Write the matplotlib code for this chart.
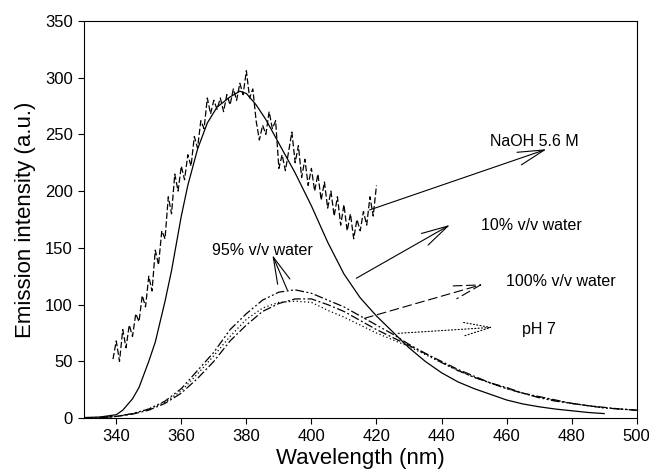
import numpy as np
import matplotlib
matplotlib.use('Agg')
from matplotlib import pyplot as plt

plt.rcParams['font.family'] = ['Liberation Sans', 'DejaVu Sans']

# NaOH 5.6 M (noisy trace, 1 nm steps)
naoh_wl = np.arange(339, 421)
naoh_int = [52, 68, 50, 78, 62, 82, 72, 92, 85, 108,
            98, 125, 112, 148, 135, 165, 158, 195, 180, 215,
            200, 222, 210, 232, 222, 248, 238, 262, 255, 282,
            268, 280, 272, 282, 270, 285, 276, 290, 280, 295,
            285, 306, 282, 290, 262, 245, 258, 250, 270, 255,
            262, 220, 232, 218, 235, 252, 225, 240, 212, 228,
            205, 220, 200, 215, 192, 208, 185, 200, 178, 195,
            170, 188, 165, 180, 158, 175, 165, 182, 170, 195,
            178, 205]

# 10% v/v water
w10_wl = [330, 335, 340, 342, 345, 347, 350, 352, 355, 357, 360, 362, 365, 368,
          371, 375, 378, 380, 383, 386, 390, 395, 400, 405, 410, 415, 420, 425,
          430, 435, 440, 445, 450, 455, 460, 465, 470, 475, 480, 485, 490]
w10_int = [0.5, 1.0, 3, 7, 17, 27, 50, 67, 103, 130, 178, 205, 237, 260,
           274, 283, 288, 286, 276, 263, 242, 216, 187, 155, 127, 106, 90, 76,
           62, 50, 40, 32, 26, 21, 16, 12.5, 10, 8, 6.5, 5, 4]

wl = [330, 335, 340, 345, 350, 355, 360, 365, 370, 375, 380, 385, 390, 395,
      400, 405, 410, 415, 420, 425, 430, 435, 440, 445, 450, 455, 460, 465,
      470, 475, 480, 485, 490, 495, 500]
# 95% v/v water
w95_int = [0, 0.5, 1.5, 4, 8, 15, 26, 42, 58, 78, 92, 104, 111, 113,
           110, 104, 98, 90, 82, 74, 65, 57, 49, 42, 36, 31, 26, 22,
           18, 15, 13, 11, 9, 8, 7]
# 100% v/v water
w100_int = [0, 0.5, 1.5, 3.5, 7, 13, 22, 35, 50, 68, 82, 94, 101, 105,
            105, 100, 94, 86, 78, 71, 64, 57, 50, 43, 37, 31, 27, 22,
            19, 16, 13, 11, 9.5, 8, 7]
# pH 7
ph7_int = [0, 0.5, 1.5, 4, 8, 14, 24, 39, 55, 72, 87, 97, 102, 103,
           102, 95, 89, 82, 75, 69, 63, 56, 49, 42, 36, 31, 26, 22,
           18.5, 15.5, 13, 11, 9, 8, 7]

fig = plt.figure(figsize=(6.49, 4.73), dpi=100)
ax = fig.add_axes([0.129, 0.116, 0.852, 0.840])

lw = 0.9
ax.plot(naoh_wl, naoh_int, color='black', lw=lw, dashes=(5, 2))
ax.plot(w10_wl, w10_int, color='black', lw=lw)
ax.plot(wl, w95_int, color='black', lw=lw, dashes=(7, 2, 1.5, 2, 1.5, 2))
ax.plot(wl, w100_int, color='black', lw=lw, dashes=(7, 2, 1.5, 2))
ax.plot(wl, ph7_int, color='black', lw=lw, dashes=(1, 2))

ax.set_xlim(330, 500)
ax.set_ylim(0, 350)
ax.set_xticks(range(340, 501, 20))
ax.set_yticks(range(0, 351, 50))
ax.tick_params(direction='out', length=4, width=0.8, labelsize=12, pad=4)
for s in ax.spines.values():
    s.set_linewidth(0.8)

ax.set_xlabel('Wavelength (nm)', fontsize=16, labelpad=3)
ax.set_ylabel('Emission intensity (a.u.)', fontsize=16, labelpad=6)

# labels and arrows (tail on the curve, head near the label)
head = '->,head_length=1.6,head_width=0.4'
arrows = [
    ((417.9, 183.4), (472.3, 236.9), 'solid'),
    ((413.8, 123.2), (442.6, 170.2), 'solid'),
    ((416.3, 87.9), (452.7, 117.9), (0, (8, 4))),
    ((426.7, 74.7), (455.8, 80.0), (0, (1, 2))),
    ((392.6, 112.9), (388.0, 143.7), 'solid'),
]
for tail, tip, ls in arrows:
    ax.annotate('', xy=tip, xytext=tail,
                arrowprops=dict(arrowstyle=head, mutation_scale=12, color='black',
                                lw=0.8, linestyle=ls, shrinkA=0, shrinkB=0))

ax.text(455.0, 243.7, 'NaOH 5.6 M', fontsize=11.5, va='center')
ax.text(452.0, 169.3, '10% v/v water', fontsize=11.5, va='center')
ax.text(459.7, 120.2, '100% v/v water', fontsize=11.5, va='center')
ax.text(464.6, 78.2, 'pH 7', fontsize=11.5, va='center')
ax.text(369.4, 147.5, '95% v/v water', fontsize=11.5, va='center')

fig.savefig('out.png', dpi=100)
